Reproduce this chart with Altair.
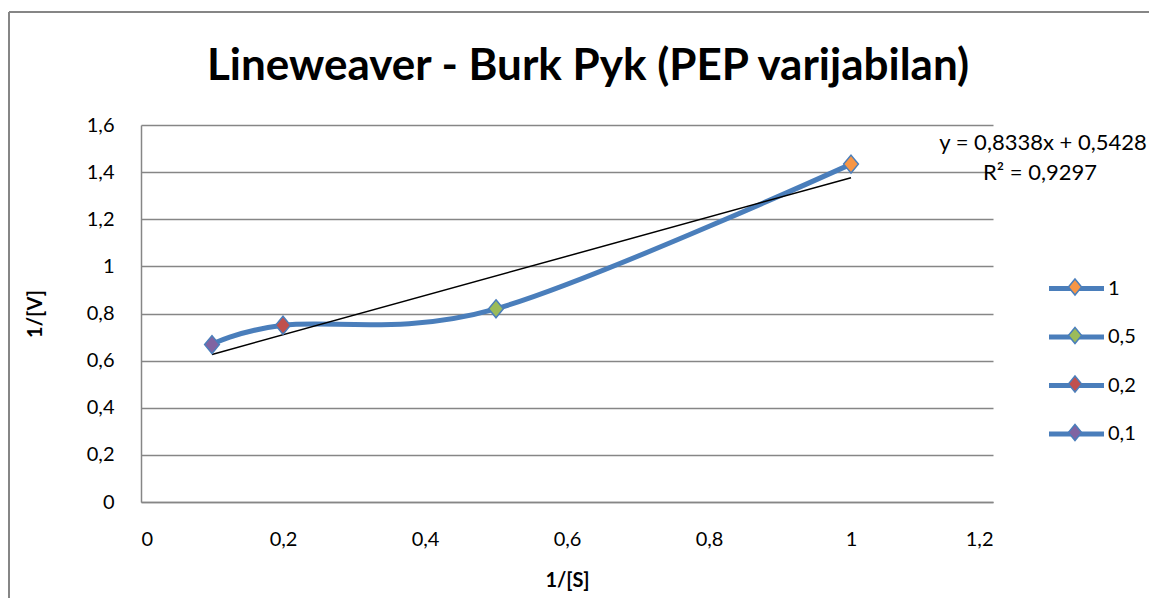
import altair as alt
import pandas as pd

# ---- data ----
inv_s = [1, 0.5, 0.2, 0.1]
inv_v = [1.434, 0.82, 0.75, 0.668]
series_labels = ["1", "0,5", "0,2", "0,1"]
point_colors = ["#F79646", "#9BBB59", "#C0504D", "#8064A2"]
x_ticks = [0, 0.2, 0.4, 0.6, 0.8, 1.0, 1.2]
y_ticks = [0, 0.2, 0.4, 0.6, 0.8, 1.0, 1.2, 1.4, 1.6]
title_text = "Lineweaver - Burk Pyk (PEP varijabilan)"
x_title = "1/[S]"
y_title = "1/[V]"
eq_lines = ["y = 0,8338x + 0,5428", "R² = 0,9297"]

BLUE = "#4A7EBB"
GRID = "#868686"
FONT = "Lato"
W, H = 852, 377
LEFT, TOP = 133, 117  # plot origin = page margin 8 + padding

df = pd.DataFrame({"x": inv_s, "y": inv_v, "label": series_labels, "series": series_labels})

label_expr = "replace(format(datum.value, '~g'), '.', ',')"

x_enc = alt.X(
    "x:Q",
    scale=alt.Scale(domain=[0, 1.2], nice=False, zero=False),
    axis=alt.Axis(
        values=x_ticks, title=x_title, grid=False, ticks=False,
        labelExpr=label_expr, labelPadding=27,
        titleX=W / 2, titleY=78, titleBaseline="middle", titleAlign="center",
    ),
)
y_enc = alt.Y(
    "y:Q",
    scale=alt.Scale(domain=[0, 1.6], nice=False),
    axis=alt.Axis(
        values=y_ticks, title=y_title, grid=True, ticks=False,
        labelExpr=label_expr, labelPadding=27,
        titleX=-106, titleY=H / 2, titleAngle=270, titleAlign="center",
        titleBaseline="middle",
    ),
)

LX = 1074 - 8 - LEFT - 11
LY = 288 - 8 - TOP - 11 - 2

# invisible single-point lines: only give the legend its line symbols
legend_lines = alt.Chart(df).mark_line(strokeWidth=5).encode(
    x=x_enc, y=y_enc,
    color=alt.Color(
        "series:N", sort=series_labels,
        scale=alt.Scale(range=[BLUE] * len(series_labels)),
        legend=alt.Legend(
            orient="none", legendX=LX, legendY=LY, title=None, padding=0,
            rowPadding=24.5, symbolSize=484, symbolType="M-2.5,0H2.5",
            symbolStrokeWidth=5, labelFontSize=20, labelFont=FONT,
            labelColor="black", labelOffset=18, labelBaseline="middle",
        ),
    ),
)

smooth = alt.Chart(df).mark_line(
    color=BLUE, strokeWidth=5, interpolate="cardinal", tension=0, strokeCap="round"
).encode(x=x_enc, y=y_enc, order="x:Q")

trend = alt.Chart(df).transform_regression("x", "y").mark_line(
    color="black", strokeWidth=1.5
).encode(x=x_enc, y=y_enc)

DIAMOND = "M0,-0.73L0.6,0L0,0.73L-0.6,0Z"
points = alt.Chart(df).mark_point(
    shape=DIAMOND, filled=True, size=605, stroke=BLUE, strokeWidth=1.5, opacity=1
).encode(
    x=x_enc, y=y_enc,
    fill=alt.Fill(
        "label:N",
        scale=alt.Scale(domain=series_labels, range=point_colors),
        legend=alt.Legend(
            orient="none", legendX=LX, legendY=LY, title=None, padding=0,
            rowPadding=24.5, symbolSize=484, symbolStrokeColor=BLUE,
            symbolStrokeWidth=1.5, labelFontSize=20, labelFont=FONT,
            labelExpr="''", labelOffset=18, labelBaseline="middle",
        ),
    ),
)

title = alt.Chart(pd.DataFrame({"t": [title_text]})).mark_text(
    font=FONT, fontSize=44, fontWeight="bold", align="center",
    baseline="alphabetic", color="black"
).encode(x=alt.value(588 - 8 - LEFT), y=alt.value(80 - 8 - TOP), text="t:N")

eq1 = alt.Chart(pd.DataFrame({"t": [eq_lines[0]]})).mark_text(
    font=FONT, fontSize=22, align="center", baseline="middle", color="black"
).encode(x=alt.value(1043 - 8 - LEFT), y=alt.value(143 - 8 - TOP), text="t:N")
eq2 = alt.Chart(pd.DataFrame({"t": [eq_lines[1]]})).mark_text(
    font=FONT, fontSize=22, align="center", baseline="middle", color="black"
).encode(x=alt.value(1040 - 8 - LEFT), y=alt.value(173 - 8 - TOP), text="t:N")

one = pd.DataFrame({"k": [0]})
border_top = alt.Chart(one).mark_rule(color=GRID, strokeWidth=2).encode(
    x=alt.value(9 - 8 - LEFT), x2=alt.value(1160 - 8 - LEFT),
    y=alt.value(12 - 8 - TOP), y2=alt.value(12 - 8 - TOP)
)
border_left = alt.Chart(one).mark_rule(color=GRID, strokeWidth=2).encode(
    x=alt.value(9 - 8 - LEFT), x2=alt.value(9 - 8 - LEFT),
    y=alt.value(12 - 8 - TOP), y2=alt.value(620 - 8 - TOP)
)

chart = alt.layer(
    border_top, border_left, legend_lines, smooth, trend, points, title, eq1, eq2
).properties(
    width=W, height=H,
    autosize=alt.AutoSizeParams(type="none"),
    padding={"left": LEFT, "top": TOP, "right": 1149 - 8 - LEFT - W, "bottom": 96},
    background="white",
).configure_view(stroke=None).configure_axis(
    labelFont=FONT, labelFontSize=20, labelColor="black",
    titleFont=FONT, titleFontSize=20, titleFontWeight="bold", titleColor="black",
    domainColor=GRID, domainWidth=1.5, gridColor=GRID, gridWidth=1.3,
)

chart.save("out.html", embed_options={"renderer": "svg", "actions": False})
